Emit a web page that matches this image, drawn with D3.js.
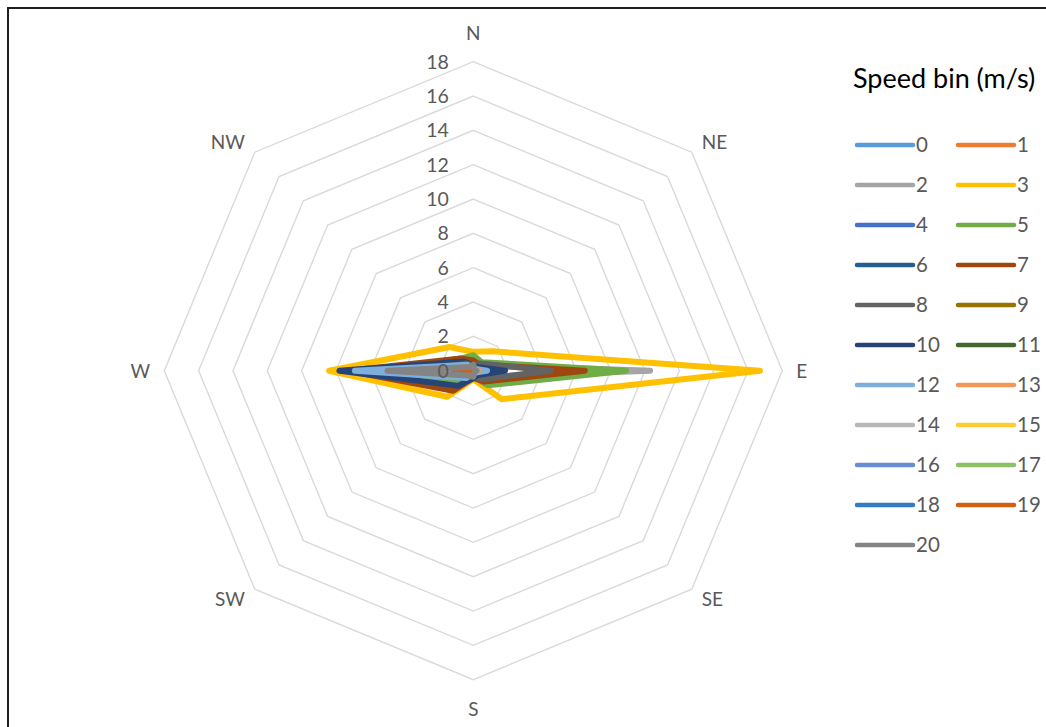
<!DOCTYPE html>
<html>
<head>
<meta charset="utf-8">
<script src="https://cdn.jsdelivr.net/npm/d3@7/dist/d3.min.js"></script>
<style>
  body { margin: 0; background: #fff; }
  svg { display: block; }
  text { font-family: Lato, "Open Sans", "Liberation Sans", sans-serif; fill: #595959; }
</style>
</head>
<body>
<svg id="chart" width="1046" height="727"></svg>
<script>
// Wind directions (clockwise from north) and radial tick values
const directions = ["N", "NE", "E", "SE", "S", "SW", "W", "NW"];
const radialTicks = [0, 2, 4, 6, 8, 10, 12, 14, 16, 18];

// Speed bins (m/s) and their colours
const speedBins = ["0","1","2","3","4","5","6","7","8","9","10",
                   "11","12","13","14","15","16","17","18","19","20"];
const binColors = ["#5B9BD5","#ED7D31","#A5A5A5","#FFC000","#4472C4","#70AD47",
                   "#255E91","#9E480E","#636363","#997300","#264478","#43682B",
                   "#7CAFDD","#F1975A","#B7B7B7","#FFCD33","#698ED0","#8CC168",
                   "#327DC2","#D26012","#848484"];

// Frequency per direction for each speed bin, order: N NE E SE S SW W NW
const bin0  = [0.8, 0.2, 0.6, 0.2, 0.15, 0.2, 0.6, 0.2];
const bin1  = [0.1, 0.1, 0.3, 0.1, 0.1, 0.1, 0.6, 0.1];
const bin2  = [0.25, 0.5, 10.3, 0.5, 0.2, 0.2, 0.5, 0.2];
const bin3  = [1.1, 1.6, 16.7, 2.35, 0.5, 2.15, 8.4, 1.95];
const bin4  = [0.2, 0.3, 1.2, 0.3, 0.2, 0.4, 2.0, 0.4];
const bin5  = [0.9, 0.7, 8.9, 1.2, 0.35, 1.0, 6.0, 1.0];
const bin6  = [0.2, 0.3, 1.5, 0.3, 0.3, 0.6, 4.0, 0.5];
const bin7  = [0.6, 0.5, 6.5, 0.9, 0.4, 1.65, 7.3, 1.0];
const bin8  = [0.3, 0.6, 4.5, 0.7, 0.3, 0.5, 3.5, 0.4];
const bin9  = [0.2, 0.2, 0.9, 0.3, 0.2, 0.4, 2.2, 0.4];
const bin10 = [0.3, 0.3, 1.85, 0.35, 0.45, 1.25, 7.8, 0.75];
const bin11 = [0.3, 0.2, 0.6, 0.2, 0.2, 0.5, 3.0, 0.6];
const bin12 = [0.2, 0.15, 0.8, 0.15, 0.2, 0.6, 6.9, 0.5];
const bin13 = [0.1, 0.1, 0.3, 0.1, 0.1, 0.3, 2.5, 0.3];
const bin14 = [0.1, 0.1, 0.2, 0.1, 0.1, 0.2, 2.0, 0.2];
const bin15 = [0.1, 0.1, 0.2, 0.1, 0.1, 0.2, 1.6, 0.2];
const bin16 = [0.1, 0.1, 0.1, 0.1, 0.1, 0.1, 1.2, 0.1];
const bin17 = [0.1, 0.05, 0.1, 0.05, 0.05, 0.1, 1.0, 0.1];
const bin18 = [0.05, 0.05, 0.1, 0.05, 0.05, 0.1, 0.8, 0.1];
const bin19 = [0.05, 0.05, 0.1, 0.05, 0.05, 0.1, 1.1, 0.1];
const bin20 = [0.35, 0.1, 0.2, 0.1, 0.35, 0.4, 5.0, 0.3];

const binValues = [bin0, bin1, bin2, bin3, bin4, bin5, bin6, bin7, bin8, bin9, bin10,
                   bin11, bin12, bin13, bin14, bin15, bin16, bin17, bin18, bin19, bin20];

const svg = d3.select("#chart");

// Outer frame
svg.append("rect")
  .attr("x", 8).attr("y", 8).attr("width", 1050).attr("height", 730)
  .attr("fill", "none").attr("stroke", "#1f1f1f").attr("stroke-width", 2);

const cx = 473.3, cy = 370.7, radius = 309;
const r = d3.scaleLinear().domain([0, 18]).range([0, radius]);
const angle = d3.scalePoint().domain(directions).range([0, 2 * Math.PI * 7 / 8]);

const plot = svg.append("g").attr("transform", `translate(${cx},${cy})`);

// Octagonal grid rings
const ring = d3.lineRadial()
  .angle(d => angle(d))
  .curve(d3.curveLinearClosed);
plot.append("g").selectAll("path")
  .data(radialTicks.filter(t => t > 0))
  .join("path")
  .attr("d", t => ring.radius(() => r(t))(directions))
  .attr("fill", "none")
  .attr("stroke", "#D9D9D9")
  .attr("stroke-width", 1.4);

// Series polygons
const seriesLine = d3.lineRadial()
  .angle((d, i) => angle(directions[i]))
  .radius(d => r(d))
  .curve(d3.curveLinearClosed);
plot.append("g").selectAll("path")
  .data(binValues)
  .join("path")
  .attr("d", d => seriesLine(d))
  .attr("fill", "none")
  .attr("stroke", (d, i) => binColors[i])
  .attr("stroke-width", 6)
  .attr("stroke-linejoin", "round")
  .attr("stroke-linecap", "round");

// Radial tick labels along the north axis
plot.append("g").selectAll("text")
  .data(radialTicks)
  .join("text")
  .attr("x", -24.5)
  .attr("y", t => -r(t))
  .attr("dy", "0.36em")
  .attr("text-anchor", "end")
  .style("font-size", "19.5px")
  .text(t => t);

// Direction labels
const labelR = 323;
plot.append("g").selectAll("text")
  .data(directions)
  .join("text")
  .each(function (d) {
    const a = angle(d);
    const sx = Math.sin(a), sy = -Math.cos(a);
    let x = sx * labelR, y = sy * labelR;
    let anchor = "middle";
    if (sx > 0.1) anchor = "start";
    if (sx < -0.1) anchor = "end";
    if (Math.abs(sx) < 0.1) y = sy * (labelR + 15);
    d3.select(this)
      .attr("x", x).attr("y", y).attr("dy", "0.36em")
      .attr("text-anchor", anchor)
      .style("font-size", "19px")
      .text(d);
  });

// Legend
const legend = svg.append("g");
legend.append("text")
  .attr("x", 853).attr("y", 88)
  .style("font-size", "27px")
  .style("fill", "#000")
  .text("Speed bin (m/s)");

const item = legend.selectAll("g.item")
  .data(speedBins)
  .join("g")
  .attr("class", "item")
  .attr("transform", (d, i) => `translate(${i % 2 === 0 ? 857 : 958},${145 + Math.floor(i / 2) * 40})`);
item.append("line")
  .attr("x1", 0).attr("x2", 56).attr("y1", 0).attr("y2", 0)
  .attr("stroke", (d, i) => binColors[i])
  .attr("stroke-width", 4.5)
  .attr("stroke-linecap", "round");
item.append("text")
  .attr("x", 59).attr("y", 0).attr("dy", "0.36em")
  .style("font-size", "20.5px")
  .text(d => d);
</script>
</body>
</html>
